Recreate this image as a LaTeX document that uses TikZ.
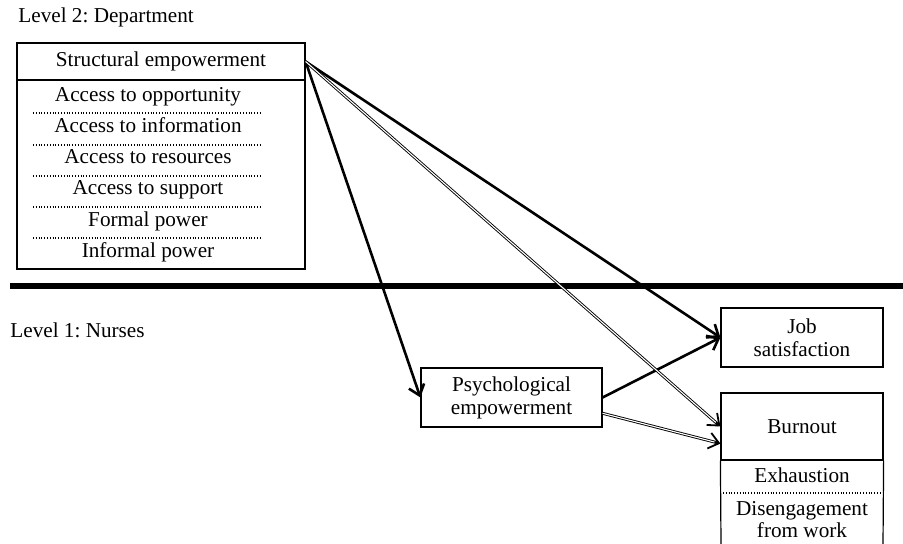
\documentclass[tikz,border=0pt]{standalone}
\usepackage{fontspec}
\setmainfont{Liberation Serif}
\usetikzlibrary{arrows.meta,calc}
\frenchspacing
\begin{document}
\begin{tikzpicture}[x=0.5pt,y=-0.5pt,
  box/.style={draw, line width=0.6pt, inner sep=0pt, align=center, font=\fontsize{10.6}{11.5}\selectfont},
  txt/.style={inner sep=0pt, font=\fontsize{10.6}{11.5}\selectfont},
  dots/.style={line width=0.55pt, dash pattern=on 0.45pt off 0.95pt},
  heavyarrow/.style={line width=1.3pt, -{Straight Barb[length=5pt,width=8pt]}},
  dbl/.style={double, double distance=0.55pt, line width=0.45pt},
  dbltip/.style={line width=0.9pt, -{Straight Barb[length=5pt,width=8pt]}},
  rulestyle/.style={line width=3pt}]
\useasboundingbox (0,0) rectangle (903,544);

% level labels
\node[txt, anchor=base west] (l2) at (18,23) {Level 2: Department};
\node[txt, anchor=base west] (l1) at (10,338) {Level 1: Nurses};

% separating rule
\coordinate (r1) at (10,286);
\coordinate (r2) at (903,286);
\draw[rulestyle] (r1) -- (r2);

% structural empowerment
\node[box, minimum width=144pt, minimum height=18.5pt] (sh) at (161,61.5) {Structural empowerment};
\node[box, minimum width=144pt, minimum height=94.5pt] (sbody) at (161,174.5) {};
\node[txt, anchor=base] (i1) at (148,102) {Access to opportunity};
\node[txt, anchor=base] (i2) at (148,133) {Access to information};
\node[txt, anchor=base] (i3) at (148,164) {Access to resources};
\node[txt, anchor=base] (i4) at (148,195) {Access to support};
\node[txt, anchor=base] (i5) at (148,227) {Formal power};
\node[txt, anchor=base] (i6) at (148,258) {Informal power};
\foreach \yy in {113,145,176,207,238} \draw[dots] (33,\yy) -- (262,\yy);

% level 1 boxes
\node[box, minimum width=90.5pt, minimum height=29.5pt] (psych) at (511.5,397.5) {Psychological\\empowerment};
\node[box, minimum width=81pt, minimum height=29.5pt] (job) at (802,337.5) {Job\\satisfaction};
\node[box, minimum width=81pt, minimum height=33.5pt] (burn) at (802,426.5) {Burnout};
\draw[line width=0.6pt] (burn.south west) -- (721,544);
\draw[line width=0.6pt] (burn.south east) -- (883,544);
\node[txt, anchor=base] (b1) at (802,482) {Exhaustion};
\draw[dots] (723,493) -- (883,493);
\node[txt, anchor=base] (b2) at (802,515) {Disengagement};
\node[txt, anchor=base] (b3) at (802,537) {from work};

% connectors
\draw[heavyarrow] (sh.east) -- (job.west);
\draw[heavyarrow] (sh.east) -- (psych.west);
\draw[heavyarrow] (psych.east) -- (job.west);

\draw[dbl] (sh.east) -- ($(burn.west)!1pt!(sh.east)$);
\draw[dbltip] ($(burn.west)!3pt!(sh.east)$) -- (burn.west);

\coordinate (pe) at ($(psych.east)!0.525!(psych.south east)$);
\coordinate (bw) at ($(burn.west)!0.5!(burn.south west)$);
\draw[dbl] (pe) -- ($(bw)!1pt!(pe)$);
\draw[dbltip] ($(bw)!3pt!(pe)$) -- (bw);
\end{tikzpicture}
\end{document}
